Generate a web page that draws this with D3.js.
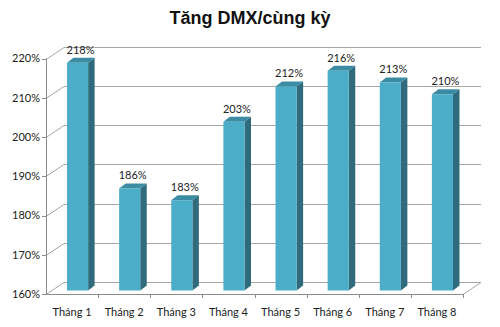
<!DOCTYPE html>
<html><head><meta charset="utf-8">
<script src="https://cdn.jsdelivr.net/npm/d3@7"></script>
<style>body{margin:0;background:#fff}svg{display:block}</style>
</head><body>
<svg id="c" width="500" height="327"></svg>
<script>
const title = "Tăng DMX/cùng kỳ";
const categories = ["Tháng 1","Tháng 2","Tháng 3","Tháng 4","Tháng 5","Tháng 6","Tháng 7","Tháng 8"];
const values = [218, 186, 183, 203, 212, 216, 213, 210];
const yTicks = [160, 170, 180, 190, 200, 210, 220];

(function(){
const svg = d3.select("#c");
const font = "Lato, 'Open Sans', sans-serif";
const pL = 46, pR = 463, pB = 294, pT = 58.5;
const DX = 18, DY = -12;      // wall depth
const bdx = 5.5, bdy = -3.5;  // bar front plane offset
const sdx = 6.5, sdy = -5;    // bar depth

const x = d3.scaleBand().domain(categories).range([pL, pR]).paddingInner(0).paddingOuter(0);
const y = d3.scaleLinear().domain([160, 220]).range([pB, pT]);

svg.append("text").attr("x", 250).attr("y", 24).attr("text-anchor", "middle")
  .attr("font-family", "'Liberation Sans', Arial, sans-serif").attr("font-weight", "bold")
  .attr("font-size", 18).attr("fill", "#111").text(title);

const grid = svg.append("g").attr("stroke", "#a6a6a6").attr("stroke-width", 1).attr("fill", "none");
yTicks.forEach(t => {
  const yy = Math.round(y(t)) + 0.5;
  grid.append("path").attr("d", `M${pL},${yy}L${pL+DX},${yy+DY}L${pR+DX},${yy+DY}`);
});
grid.append("path").attr("d", `M${pL},${pB+0.5}L${pR},${pB+0.5}L${pR+DX},${pB+0.5+DY}`);

const ax = svg.append("g").attr("stroke", "#8c8c8c").attr("stroke-width", 1);
ax.append("line").attr("x1", pL+0.5).attr("x2", pL+0.5).attr("y1", y(220)).attr("y2", pB+0.5);
yTicks.forEach(t => {
  const yy = Math.round(y(t)) + 0.5;
  ax.append("line").attr("x1", pL-4).attr("x2", pL).attr("y1", yy).attr("y2", yy);
});
ax.append("line").attr("x1", pL).attr("x2", pR).attr("y1", pB+0.5).attr("y2", pB+0.5);
categories.forEach((c, i) => {
  const xx = Math.round(x(c) + x.bandwidth()) + 0.5;
  ax.append("line").attr("x1", xx).attr("x2", xx).attr("y1", pB).attr("y2", pB+4);
});

svg.append("g").selectAll("text").data(yTicks).join("text")
  .attr("x", pL-6).attr("y", d => y(d)).attr("dy", "0.35em").attr("text-anchor", "end")
  .attr("font-family", font).attr("font-size", 11).attr("fill", "#222").text(d => d + "%");

svg.append("g").selectAll("text").data(categories).join("text")
  .attr("x", d => x(d) + x.bandwidth()/2).attr("y", 316).attr("text-anchor", "middle")
  .attr("font-family", font).attr("font-size", 11).attr("fill", "#222").text(d => d);

const bw = x.bandwidth() * 0.405;
const bars = svg.append("g");
categories.forEach((c, i) => {
  const v = values[i];
  const x0 = x(c) + x.bandwidth()/2 + bdx - bw/2, x1 = x0 + bw;
  const yt = y(v) + bdy, yb = y(160) + bdy;
  bars.append("path").attr("fill", "#2f6b7c")
    .attr("d", `M${x1},${yt}L${x1+sdx},${yt+sdy}L${x1+sdx},${yb+sdy}L${x1},${yb}Z`);
  bars.append("path").attr("fill", "#3b8ca2")
    .attr("d", `M${x0},${yt}L${x0+sdx},${yt+sdy}L${x1+sdx},${yt+sdy}L${x1},${yt}Z`);
  bars.append("rect").attr("x", x0).attr("y", yt).attr("width", bw).attr("height", yb - yt)
    .attr("fill", "#4badc7");
  bars.append("text").attr("x", (x0 + x1)/2 + 3).attr("y", yt + sdy - 4).attr("text-anchor", "middle")
    .attr("font-family", font).attr("font-size", 11).attr("fill", "#222").text(v + "%");
});
})();
</script>
</body></html>
